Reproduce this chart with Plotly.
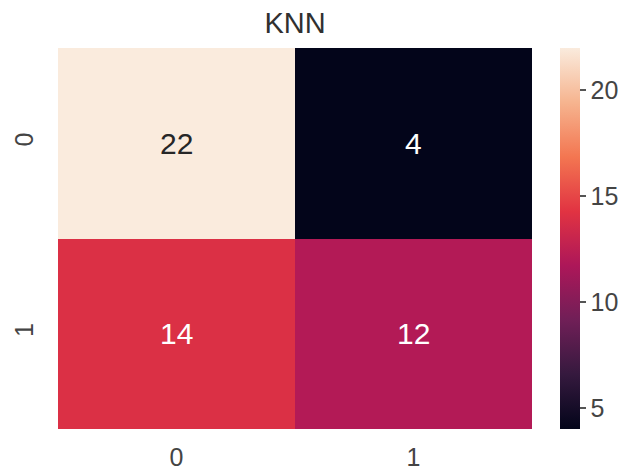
import plotly.graph_objects as go

# Confusion matrix for the KNN classifier
row_labels = ["0", "1"]
col_labels = ["0", "1"]
counts = [
    [22, 4],
    [14, 12],
]

# seaborn "rocket" colormap sampled at a few stops
rocket = [
    [0.0, "#03051a"],
    [0.143, "#35193e"],
    [0.286, "#701f57"],
    [0.429, "#ad1759"],
    [0.571, "#e13342"],
    [0.714, "#f37651"],
    [0.857, "#f6b48f"],
    [1.0, "#faebdd"],
]

FONT = "Liberation Sans, Arial, sans-serif"

zmin = min(min(r) for r in counts)
zmax = max(max(r) for r in counts)
mid = (zmin + zmax) / 2

fig = go.Figure(
    go.Heatmap(
        z=counts,
        x=col_labels,
        y=row_labels,
        colorscale=rocket,
        zmin=zmin,
        zmax=zmax,
        showscale=True,
        hoverinfo="skip",
        colorbar=dict(
            thickness=20,
            thicknessmode="pixels",
            len=1.0,
            lenmode="fraction",
            x=1.059,
            xanchor="left",
            y=0.5,
            yanchor="middle",
            xpad=0,
            ypad=0,
            outlinewidth=0,
            tick0=5,
            dtick=5,
            ticks="outside",
            ticklen=6,
            tickwidth=1.5,
            tickcolor="#555555",
            tickfont=dict(family=FONT, size=25, color="#444444"),
        ),
    )
)

# Cell annotations: dark text on light cells, white text on dark cells
for i, row in enumerate(counts):
    for j, v in enumerate(row):
        fig.add_annotation(
            x=col_labels[j],
            y=row_labels[i],
            text=str(v),
            showarrow=False,
            font=dict(
                family=FONT,
                size=30,
                color="#262626" if v > mid + 4 else "#ffffff",
            ),
        )

fig.update_layout(
    width=630,
    height=475,
    margin=dict(l=58, r=98, t=48, b=46, autoexpand=False),
    paper_bgcolor="white",
    plot_bgcolor="white",
    title=dict(
        text="KNN",
        x=(58 + 532) / 2 / 630,
        xanchor="center",
        y=1 - 23 / 475,
        yanchor="middle",
        font=dict(family=FONT, size=29, color="#303030"),
    ),
    xaxis=dict(
        automargin=False,
        showgrid=False,
        zeroline=False,
        ticks="",
        ticklabelstandoff=11,
        tickfont=dict(family=FONT, size=25, color="#444444"),
    ),
    yaxis=dict(
        automargin=False,
        autorange="reversed",
        showgrid=False,
        zeroline=False,
        ticks="",
        tickangle=-90,
        ticklabelstandoff=19,
        tickfont=dict(family=FONT, size=25, color="#444444"),
    ),
)

fig.write_html("out.html")
